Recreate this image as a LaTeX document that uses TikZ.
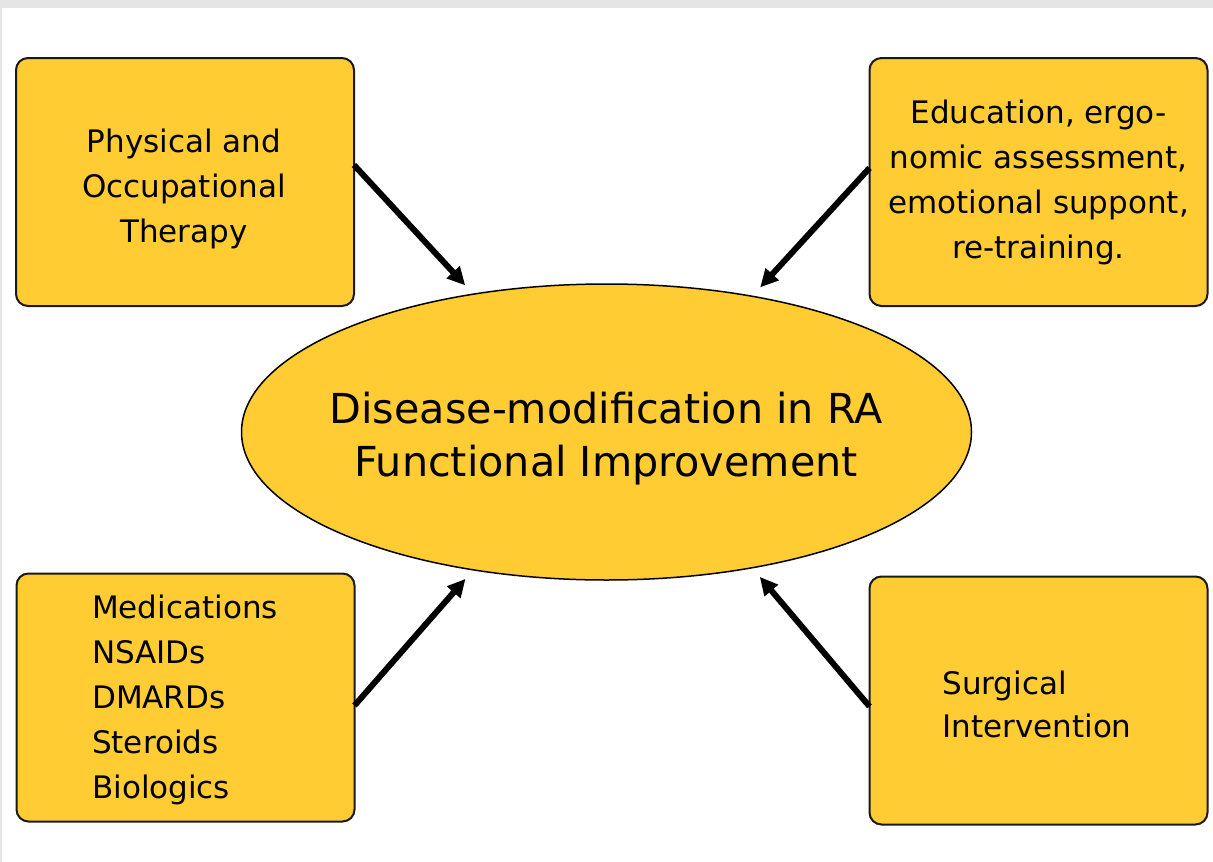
\documentclass[tikz,border=0pt]{standalone}
\usepackage{fontspec}
\setmainfont{DejaVu Sans}
\usetikzlibrary{arrows.meta,shapes.geometric}
\definecolor{boxfill}{RGB}{255,204,51}
\definecolor{bandgray}{RGB}{229,229,229}
\tikzset{
  sidebox/.style={draw=black!90, line width=2pt, fill=boxfill, rounded corners=12pt,
    minimum width=338pt, minimum height=248pt, inner sep=0pt, outer sep=0pt},
  boxtext/.style={inner sep=0pt, font=\fontsize{31}{45}\selectfont},
  centre/.style={ellipse, draw=black, line width=1.5pt, fill=boxfill,
    minimum width=730pt, minimum height=296pt, inner sep=0pt, outer sep=0pt},
  centretext/.style={inner sep=0pt, align=center, font=\fontsize{41.3}{53}\selectfont},
  arr/.style={line width=6pt, -{Triangle[length=18pt,width=17pt]}, shorten >=12pt}
}
\begin{document}
\begin{tikzpicture}[x=1pt,y=-1pt]
\useasboundingbox (0,0) rectangle (1213,862);
\fill[bandgray] (0,0) rectangle (1213,8);
\fill[bandgray] (0,8) rectangle (2,862);

\node[sidebox] (tl) at (185,182) {};
\node[boxtext, align=center] (tltext) at (184,189) {Physical and\\Occupational\\Therapy};
\node[sidebox] (tr) at (1038.5,182) {};
\node[boxtext, align=center] (trtext) at (1038.5,182) {Education, ergo-\\nomic assessment,\\emotional suppont,\\re-training.};
\node[sidebox] (bl) at (185.5,697.5) {};
\node[boxtext, align=left] (bltext) at (185,700) {Medications\\NSAIDs\\DMARDs\\Steroids\\Biologics};
\node[sidebox] (br) at (1038.5,700.5) {};
\node[boxtext, align=left, font=\fontsize{31}{43}\selectfont] (brtext) at (1037,704) {Surgical\\Intervention};

\node[centre] (c) at (606.5,432) {};
\node[centretext] (ctext) at (606,439) {Disease-modification in RA\\Functional Improvement};

\draw[arr] ([yshift=17pt]tl.east) -- (c.134.6);
\draw[arr] ([yshift=14pt]tr.west) -- (c.43.3);
\draw[arr] ([yshift=-8pt]bl.east) -- (c.226.5);
\draw[arr] ([yshift=-6pt]br.west) -- (c.317.6);
\end{tikzpicture}
\end{document}
